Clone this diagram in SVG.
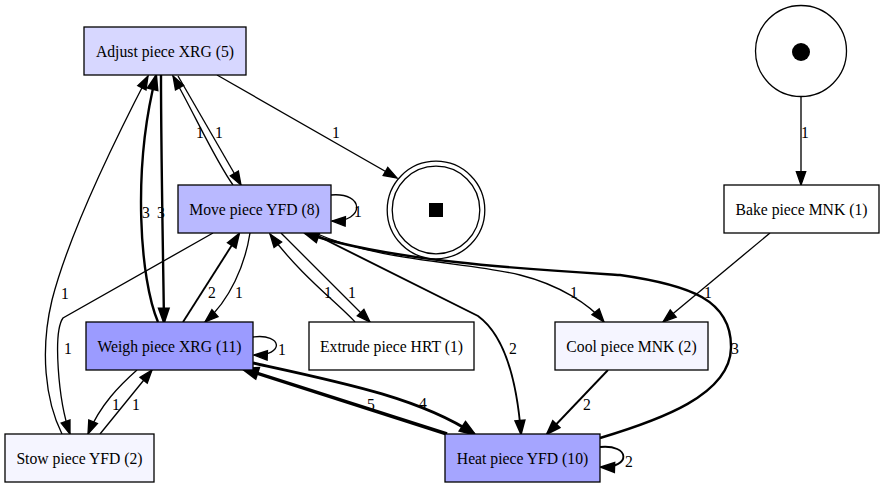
<svg xmlns="http://www.w3.org/2000/svg" width="884" height="488" viewBox="0 0 884 488">
<style>
text{font-family:"Liberation Serif","Times New Roman",serif;font-size:15.7px;fill:#000;text-anchor:middle}
.n rect{stroke:#000;stroke-width:1.3}
.e path{fill:none;stroke:#000}
.w1{stroke-width:1.33}
.w2{stroke-width:1.87}
.w3{stroke-width:2.4}
.w4{stroke-width:2.93}
.w5{stroke-width:3.47}
</style>
<defs>
<marker id="a1" markerUnits="userSpaceOnUse" markerWidth="20" markerHeight="20" refX="13.3" refY="4.67" orient="auto" overflow="visible"><path d="M0,0 L13.3,4.67 L0,9.33 Z" fill="#000" stroke="#000" stroke-width="1.33"/></marker>
<marker id="a2" markerUnits="userSpaceOnUse" markerWidth="20" markerHeight="20" refX="13.3" refY="4.67" orient="auto" overflow="visible"><path d="M0,0 L13.3,4.67 L0,9.33 Z" fill="#000" stroke="#000" stroke-width="1.87"/></marker>
<marker id="a3" markerUnits="userSpaceOnUse" markerWidth="20" markerHeight="20" refX="13.3" refY="4.67" orient="auto" overflow="visible"><path d="M0,0 L13.3,4.67 L0,9.33 Z" fill="#000" stroke="#000" stroke-width="2.4"/></marker>
<marker id="a4" markerUnits="userSpaceOnUse" markerWidth="20" markerHeight="20" refX="13.3" refY="4.67" orient="auto" overflow="visible"><path d="M0,0 L13.3,4.67 L0,9.33 Z" fill="#000" stroke="#000" stroke-width="2.93"/></marker>
<marker id="a5" markerUnits="userSpaceOnUse" markerWidth="20" markerHeight="20" refX="13.3" refY="4.67" orient="auto" overflow="visible"><path d="M0,0 L13.3,4.67 L0,9.33 Z" fill="#000" stroke="#000" stroke-width="3.47"/></marker>
</defs>
<rect width="884" height="488" fill="#fff"/>

<g id="connectors" class="e">
  <path class="w1" marker-end="url(#a1)" d="M217,75 L397,178"/>
  <text x="336" y="137.5">1</text>
  <path class="w1" marker-end="url(#a1)" d="M178,76 L241,185"/>
  <text x="219" y="137.5">1</text>
  <path class="w1" marker-end="url(#a1)" d="M233,185 C215,160 195,115 173,76"/>
  <text x="200" y="137.5">1</text>
  <path class="w3" marker-end="url(#a3)" d="M161,75 C161,150 163,250 164,322"/>
  <text x="161" y="217.5">3</text>
  <path class="w3" marker-end="url(#a3)" d="M158,322 C140,280 132,170 156,76"/>
  <text x="146" y="217.5">3</text>
  <path class="w1" marker-end="url(#a1)" d="M62,434 C45,400 40,350 52,300 C70,230 120,130 148,76"/>
  <text x="65" y="298.5">1</text>
  <path class="w1" marker-end="url(#a1)" d="M213,233 L63,318 C53,332 58,400 70,434"/>
  <text x="68" y="353.5">1</text>
  <path class="w2" marker-end="url(#a2)" d="M183,322 L239,234"/>
  <text x="212" y="297.5">2</text>
  <path class="w1" marker-end="url(#a1)" d="M250,233 C245,265 230,300 205,322"/>
  <text x="239" y="297.5">1</text>
  <path class="w1" marker-end="url(#a1)" d="M253,337 C283,333 285,356 254,355"/>
  <text x="282" y="354.5">1</text>
  <path class="w1" marker-end="url(#a1)" d="M331,195 C365,192 365,222 332,221"/>
  <text x="358" y="216.5">1</text>
  <path class="w1" marker-end="url(#a1)" d="M355,322 C340,305 300,275 270,234"/>
  <text x="328" y="297.5">1</text>
  <path class="w1" marker-end="url(#a1)" d="M281,233 L370,322"/>
  <text x="352" y="297.5">1</text>
  <path class="w3" marker-end="url(#a3)" d="M600,438 C660,420 730,395 731,348 C732,300 690,285 620,275 C540,270 390,262 305,233"/>
  <text x="735" y="353.5">3</text>
  <path class="w1" marker-end="url(#a1)" d="M315,233 C380,262 470,262 520,275 C560,285 590,305 604,322"/>
  <text x="574" y="297.5">1</text>
  <path class="w2" marker-end="url(#a2)" d="M312,233 L478,316 C500,332 516,370 521,434"/>
  <text x="513" y="353.5">2</text>
  <path class="w1" marker-end="url(#a1)" d="M770,233 L663,322"/>
  <text x="708" y="297.5">1</text>
  <path class="w2" marker-end="url(#a2)" d="M608,370 L547,434"/>
  <text x="587" y="409.5">2</text>
  <path class="w2" marker-end="url(#a2)" d="M600,447 C630,444 632,468 601,467"/>
  <text x="629" y="466.5">2</text>
  <path class="w4" marker-end="url(#a4)" d="M253,363 C340,382 420,398 474,434"/>
  <text x="423" y="408.5">4</text>
  <path class="w5" marker-end="url(#a5)" d="M447,434 L244,369"/>
  <text x="371" y="409.5">5</text>
  <path class="w1" marker-end="url(#a1)" d="M137,370 C120,385 100,405 88,434"/>
  <text x="116" y="409.5">1</text>
  <path class="w1" marker-end="url(#a1)" d="M100,434 L152,370"/>
  <text x="136" y="409.5">1</text>
  <path class="w1" marker-end="url(#a1)" d="M801,97 L801,185"/>
  <text x="805" y="137.5">1</text>
</g>

<g id="start">
  <circle cx="801" cy="51" r="45.5" fill="#fff" stroke="#000" stroke-width="1.3"/>
  <circle cx="801" cy="52" r="9" fill="#000"/>
</g>
<g id="end">
  <circle cx="436" cy="210" r="48.8" fill="#fff" stroke="#000" stroke-width="1.3"/>
  <circle cx="436" cy="210" r="43.8" fill="none" stroke="#000" stroke-width="1.3"/>
  <rect x="429" y="203" width="14" height="14" fill="#000"/>
</g>
<g id="adjust" class="n">
  <rect x="84" y="27" width="162" height="48" fill="#D7D7FF"/>
  <text x="165" y="56.5">Adjust piece XRG (5)</text>
</g>
<g id="move" class="n">
  <rect x="178" y="185" width="153" height="48" fill="#B9B9FF"/>
  <text x="254.5" y="214.5">Move piece YFD (8)</text>
</g>
<g id="bake" class="n">
  <rect x="724" y="185" width="155" height="48" fill="#FFFFFF"/>
  <text x="801.5" y="214.5">Bake piece MNK (1)</text>
</g>
<g id="weigh" class="n">
  <rect x="86" y="322" width="167" height="48" fill="#9B9BFF"/>
  <text x="169.5" y="351.5">Weigh piece XRG (11)</text>
</g>
<g id="extrude" class="n">
  <rect x="309" y="322" width="165" height="48" fill="#FFFFFF"/>
  <text x="391.5" y="351.5">Extrude piece HRT (1)</text>
</g>
<g id="cool" class="n">
  <rect x="555" y="322" width="153" height="48" fill="#F5F5FF"/>
  <text x="631.5" y="351.5">Cool piece MNK (2)</text>
</g>
<g id="stow" class="n">
  <rect x="5" y="434" width="149" height="48" fill="#F5F5FF"/>
  <text x="79.5" y="463.5">Stow piece YFD (2)</text>
</g>
<g id="heat" class="n">
  <rect x="445" y="434" width="155" height="48" fill="#A5A5FF"/>
  <text x="522.5" y="463.5">Heat piece YFD (10)</text>
</g>
</svg>
